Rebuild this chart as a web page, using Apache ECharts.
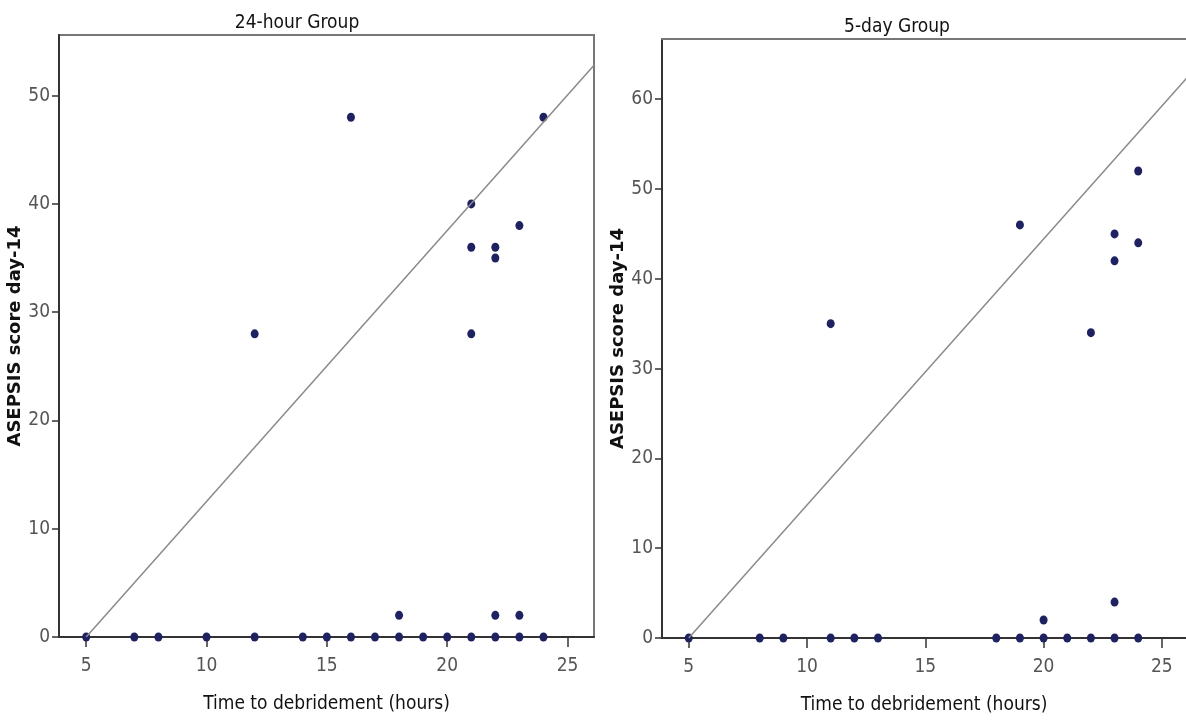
<!DOCTYPE html>
<html>
<head>
<meta charset="utf-8">
<title>ASEPSIS score vs time to debridement</title>
<script src="https://cdn.jsdelivr.net/npm/echarts@6/dist/echarts.min.js"></script>
<style>
  html, body { margin: 0; padding: 0; background: #fff; }
  #chart { width: 1186px; height: 720px; }
</style>
</head>
<body>
<div id="chart"></div>
<script>
// 24-hour group: time to debridement (hours) and ASEPSIS score on day 14
const hours24 = [5, 7, 8, 10, 12, 14, 15, 16, 17, 18, 19, 20, 21, 22, 23, 24,
  18, 22, 23, 12, 16, 21, 21, 21, 22, 22, 23, 24];
const score24 = [0, 0, 0, 0, 0, 0, 0, 0, 0, 0, 0, 0, 0, 0, 0, 0,
  2, 2, 2, 28, 48, 40, 36, 28, 36, 35, 38, 48];

// 5-day group
const hours5d = [5, 8, 9, 11, 12, 13, 18, 19, 20, 21, 22, 23, 24,
  20, 23, 11, 19, 22, 23, 23, 24, 24];
const score5d = [0, 0, 0, 0, 0, 0, 0, 0, 0, 0, 0, 0, 0,
  2, 4, 35, 46, 34, 45, 42, 52, 44];

// reference lines (end points)
const line24 = [[5, 0], [26.1, 52.8]];
const line5d = [[5, 0], [26.2, 62.8]];

const xTicks = [5, 10, 15, 20, 25];
const yTicks24 = [0, 10, 20, 30, 40, 50];
const yTicks5d = [0, 10, 20, 30, 40, 50, 60];

const narrow = "'Liberation Sans Narrow', 'DejaVu Sans Condensed', sans-serif";
const dotColor = '#1f2260';

const zip = (xs, ys) => xs.map((x, i) => [x, ys[i]]);

function xAxisFor(gridIndex, max) {
  return {
    gridIndex,
    type: 'value',
    min: 3.87,
    max,
    name: 'Time to debridement (hours)',
    nameLocation: 'middle',
    nameGap: 58,
    nameTextStyle: { fontFamily: narrow, fontSize: 19, color: '#111' },
    axisLine: { show: true, onZero: false, lineStyle: { color: '#333', width: 2 } },
    axisTick: { show: true, length: 10, customValues: xTicks, lineStyle: { color: '#333', width: 1.5 } },
    axisLabel: { customValues: xTicks, margin: 20, fontFamily: narrow, fontSize: 19, color: '#555' },
    splitLine: { show: false }
  };
}

function yAxisFor(gridIndex, max, ticks) {
  return {
    gridIndex,
    type: 'value',
    min: 0,
    max,
    name: 'ASEPSIS score day-14',
    nameLocation: 'middle',
    nameGap: 32,
    nameTextStyle: { fontFamily: "'DejaVu Sans', sans-serif", fontWeight: 'bold', fontSize: 18, color: '#111' },
    axisLine: { show: true, onZero: false, lineStyle: { color: '#333', width: 2 } },
    axisTick: { show: true, length: 7, customValues: ticks, lineStyle: { color: '#333', width: 1.5 } },
    axisLabel: { customValues: ticks, margin: 9, fontFamily: narrow, fontSize: 19, color: '#555' },
    splitLine: { show: false }
  };
}

// plain top frame line for the right panel (its right side runs off the page)
const topFrame = {
  gridIndex: 1,
  type: 'value',
  position: 'top',
  min: 0,
  max: 1,
  axisLine: { show: true, onZero: false, lineStyle: { color: '#777', width: 2 } },
  axisTick: { show: false },
  axisLabel: { show: false },
  splitLine: { show: false }
};

const chart = echarts.init(document.getElementById('chart'));

chart.setOption({
  backgroundColor: '#fff',
  animation: false,
  graphic: [
    { type: 'text', x: 297, y: 23, style: { text: '24-hour Group', font: '19px ' + narrow, fill: '#111', align: 'center', verticalAlign: 'middle' } },
    { type: 'text', x: 897, y: 27, style: { text: '5-day Group', font: '19px ' + narrow, fill: '#111', align: 'center', verticalAlign: 'middle' } }
  ],
  grid: [
    { left: 59, right: 592, top: 35, bottom: 83, show: true, borderColor: '#777', borderWidth: 2 },
    { left: 662, right: 0, top: 39, bottom: 82 }
  ],
  xAxis: [xAxisFor(0, 26.1), xAxisFor(1, 26.02), topFrame],
  yAxis: [yAxisFor(0, 55.6, yTicks24), yAxisFor(1, 66.7, yTicks5d)],
  series: [
    {
      type: 'line', xAxisIndex: 0, yAxisIndex: 0, data: line24,
      showSymbol: false, lineStyle: { color: '#8a8a8a', width: 1.5 }, silent: true
    },
    {
      type: 'line', xAxisIndex: 1, yAxisIndex: 1, data: line5d,
      showSymbol: false, lineStyle: { color: '#8a8a8a', width: 1.5 }, silent: true
    },
    {
      type: 'scatter', xAxisIndex: 0, yAxisIndex: 0, data: zip(hours24, score24),
      symbol: 'circle', symbolSize: [8, 9], itemStyle: { color: dotColor, opacity: 1 }
    },
    {
      type: 'scatter', xAxisIndex: 1, yAxisIndex: 1, data: zip(hours5d, score5d),
      symbol: 'circle', symbolSize: [8, 9], itemStyle: { color: dotColor, opacity: 1 }
    }
  ]
});
</script>
</body>
</html>
